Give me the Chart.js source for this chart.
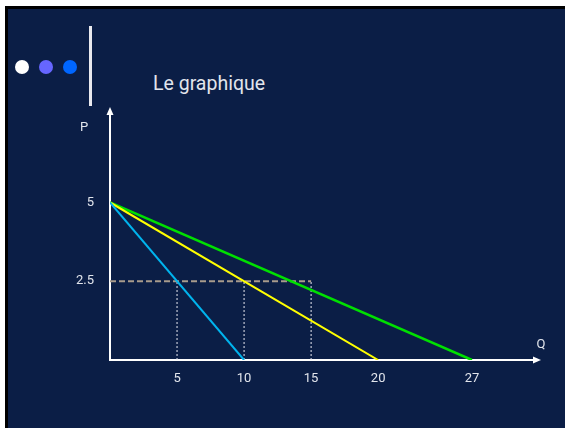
<!DOCTYPE html>
<html>
<head>
<meta charset="utf-8">
<script src="https://cdn.jsdelivr.net/npm/chart.js@4/dist/chart.umd.min.js"></script>
<style>
  html, body { margin: 0; padding: 0; background: #ffffff; }
  #page { position: relative; width: 565px; height: 428px; overflow: hidden; }
  #frame { position: absolute; left: 5px; top: 6px; width: 557px; height: 419px;
           border: 3px solid #000; border-right-width: 1px; background: #0b1e46; }
  .dot { position: absolute; width: 14px; height: 14px; border-radius: 50%; top: 60px; }
  #bar { position: absolute; left: 89px; top: 26px; width: 3px; height: 80px; background: #e9e9ee; }
  #title { position: absolute; left: 153px; top: 72px; font: 19.5px Roboto, sans-serif; color: #e2e5ec; }
  #c { position: absolute; left: 0; top: 0; }
</style>
</head>
<body>
<div id="page">
  <div id="frame"></div>
  <div class="dot" style="left:15px;background:#ffffff"></div>
  <div class="dot" style="left:39px;background:#6666ff"></div>
  <div class="dot" style="left:63px;background:#0066ff"></div>
  <div id="bar"></div>
  <div id="title">Le graphique</div>
  <canvas id="c" width="565" height="428"></canvas>
</div>
<script>
// Demand curves: all start at price 5 and fall to zero at these quantities
const priceIntercept = 5;
const demandEnds = [10, 20, 27];
const demandColors = ['#00b4ee', '#ffff00', '#00e000'];
// Reference price and the quantities each curve gives at that price
const refPrice = 2.5;
const refQuantities = [5, 10, 15];
// Axis tick labels
const xTickValues = [5, 10, 15, 20, 27];
const yTickValues = [2.5, 5];

const demandSets = demandEnds.map((q, i) => ({
  data: [{ x: 0, y: priceIntercept }, { x: q, y: 0 }],
  borderColor: demandColors[i],
  borderWidth: i === 2 ? 2.5 : 2,
  showLine: true, pointRadius: 0, fill: false
}));

const priceLine = {
  data: [{ x: 0, y: refPrice }, { x: refQuantities[refQuantities.length - 1], y: refPrice }],
  borderColor: '#a89b8c', borderWidth: 2, borderDash: [6, 3],
  showLine: true, pointRadius: 0, fill: false
};

const dropLines = refQuantities.map(q => ({
  data: [{ x: q, y: 0 }, { x: q, y: refPrice }],
  borderColor: '#e8e8f0', borderWidth: 1, borderDash: [2, 2],
  showLine: true, pointRadius: 0, fill: false
}));

// Axis arrows and axis names
const axisDecor = {
  id: 'axisDecor',
  afterDraw(chart) {
    const { ctx, chartArea: a } = chart;
    ctx.save();
    ctx.fillStyle = '#ffffff';
    ctx.beginPath();
    ctx.moveTo(a.left, a.top - 6);
    ctx.lineTo(a.left - 3.5, a.top + 2);
    ctx.lineTo(a.left + 3.5, a.top + 2);
    ctx.closePath();
    ctx.fill();
    ctx.beginPath();
    ctx.moveTo(a.right + 6, a.bottom);
    ctx.lineTo(a.right - 2, a.bottom - 3.5);
    ctx.lineTo(a.right - 2, a.bottom + 3.5);
    ctx.closePath();
    ctx.fill();
    ctx.fillStyle = '#e2e5ec';
    ctx.font = '13px Roboto, sans-serif';
    ctx.textAlign = 'center';
    ctx.textBaseline = 'middle';
    ctx.fillText('P', 84, 128);
    ctx.fillText('Q', 541, 345);
    ctx.restore();
  }
};

new Chart(document.getElementById('c'), {
  type: 'scatter',
  data: { datasets: [...demandSets, priceLine, ...dropLines] },
  options: {
    responsive: false,
    animation: false,
    layout: { padding: { left: 0, top: 113, right: 30, bottom: 0 } },
    plugins: { legend: { display: false }, tooltip: { enabled: false } },
    scales: {
      x: {
        type: 'linear', min: 0, max: 31.7,
        grid: { display: false, drawTicks: false },
        border: { display: true, color: '#ffffff', width: 2 },
        afterBuildTicks: s => { s.ticks = xTickValues.map(v => ({ value: v })); },
        afterFit: s => { s.height = 68; },
        ticks: { color: '#e2e5ec', padding: 11, font: { family: 'Roboto', size: 13 },
                 autoSkip: false, maxRotation: 0, callback: v => String(v) }
      },
      y: {
        type: 'linear', min: 0, max: 7.84,
        grid: { display: false, drawTicks: false },
        border: { display: true, color: '#ffffff', width: 2 },
        afterBuildTicks: s => { s.ticks = yTickValues.map(v => ({ value: v })); },
        afterFit: s => { s.width = 110; },
        ticks: { color: '#e2e5ec', padding: 16, font: { family: 'Roboto', size: 13 },
                 autoSkip: false, callback: v => String(v) }
      }
    }
  },
  plugins: [axisDecor]
});
</script>
</body>
</html>
